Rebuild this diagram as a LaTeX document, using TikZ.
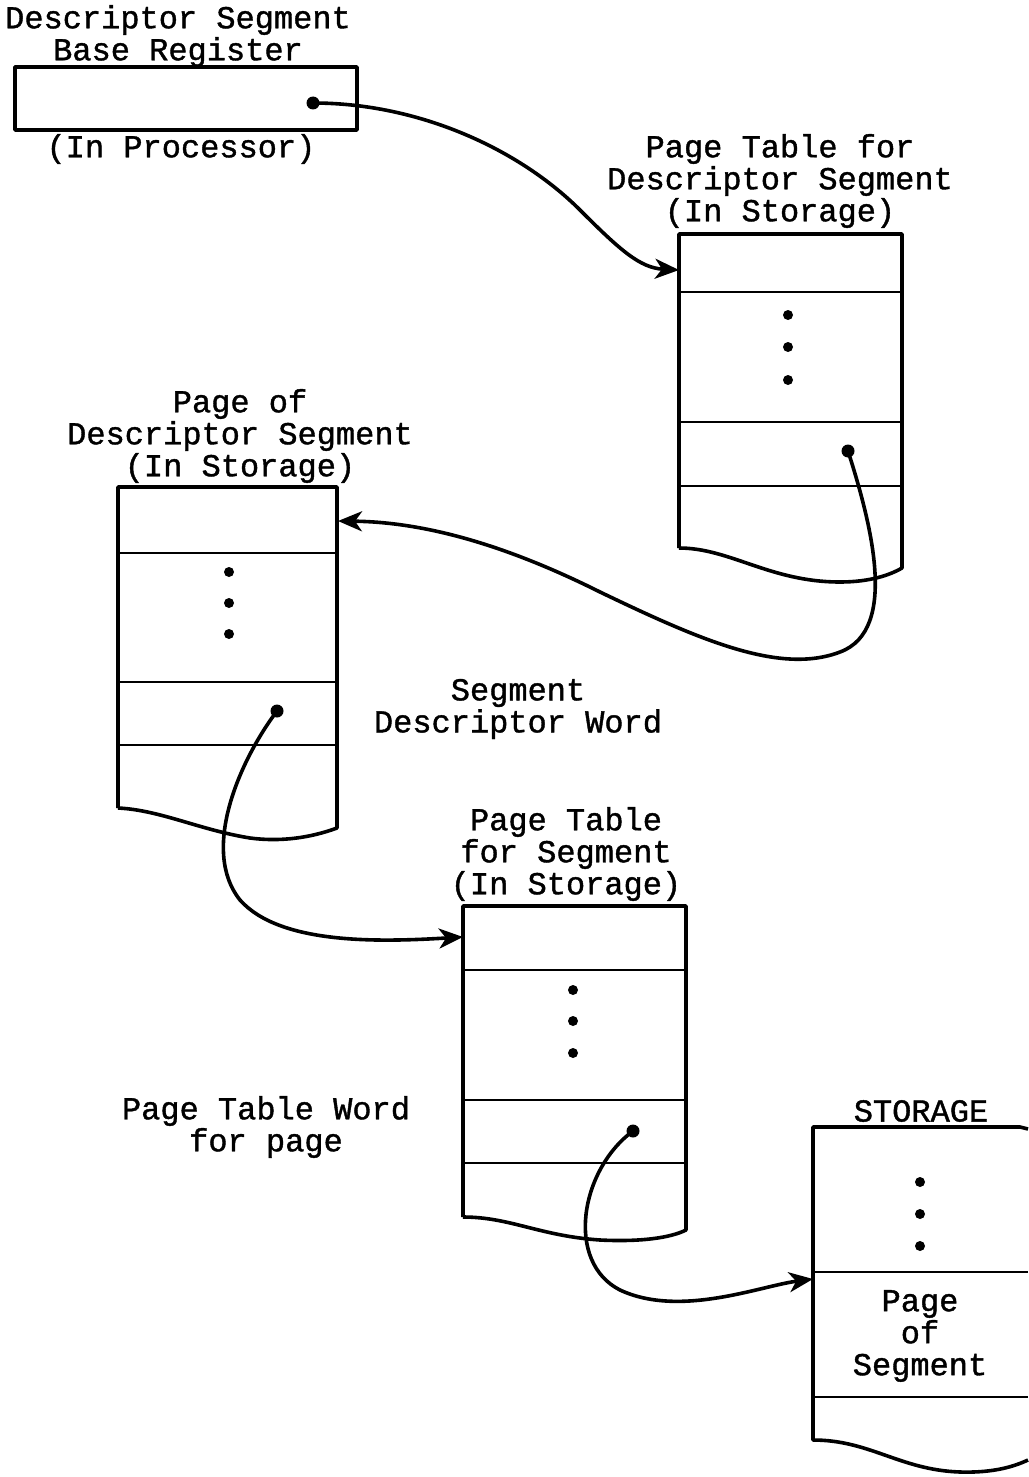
\documentclass[tikz,border=0pt]{standalone}
\usepackage{fontspec}
\setmainfont{Liberation Mono}[FakeBold=1.2]
\usetikzlibrary{arrows.meta}
\begin{document}
\begin{tikzpicture}[x=1pt,y=-1pt,
  lbl/.style={font=\fontsize{32}{32}\selectfont, align=center, inner sep=0pt},
  boxline/.style={line width=3.6pt, line join=round},
  rowline/.style={line width=2.4pt},
  ptr/.style={line width=3.6pt, -{Stealth[length=24pt,width=20pt,inset=7pt]}},
  src/.style={circle, fill=black, inner sep=0pt, minimum size=13pt},
  vdot/.style={circle, fill=black, inner sep=0pt, minimum size=10pt}]
\useasboundingbox (0,0) rectangle (1028,1477);

% ---------- Descriptor Segment Base Register ----------
\node[lbl] (tReg) at (178,36) {Descriptor Segment\\Base Register};
\draw[boxline] (15,67) rectangle (357,130);
\node[lbl] (tProc) at (181,149) {(In Processor)};
\node[src] (pReg) at (313,103) {};

% ---------- Page Table for Descriptor Segment ----------
\node[lbl] (tPTDS) at (780,181) {Page Table for\\Descriptor Segment\\(In Storage)};
\draw[boxline] (679,548) -- (679,234) -- (902,234) -- (902,568)
  .. controls (890,575) and (870,582) .. (840,582)
  .. controls (770,582) and (730,548) .. (679,548);
\draw[rowline] (679,292) -- (902,292);
\draw[rowline] (679,422) -- (902,422);
\draw[rowline] (679,486) -- (902,486);
\node[vdot] (d1a) at (788,315) {};
\node[vdot] (d1b) at (788,347) {};
\node[vdot] (d1c) at (788,380) {};
\node[src] (pPTDS) at (848,451) {};
\coordinate (inPTDS) at (679,270);

% ---------- Page of Descriptor Segment ----------
\node[lbl] (tPDS) at (240,436) {Page of\\Descriptor Segment\\(In Storage)};
\draw[boxline] (118,808) -- (118,487) -- (337,487) -- (337,828)
  .. controls (310,838) and (280,842) .. (250,838)
  .. controls (200,830) and (160,810) .. (118,808);
\draw[rowline] (118,553) -- (337,553);
\draw[rowline] (118,682) -- (337,682);
\draw[rowline] (118,745) -- (337,745);
\node[vdot] (d2a) at (229,572) {};
\node[vdot] (d2b) at (229,603) {};
\node[vdot] (d2c) at (229,634) {};
\node[src] (pPDS) at (277,711) {};
\coordinate (inPDS) at (338,521);

\node[lbl] (tSDW) at (518,709) {Segment\\Descriptor Word};

% ---------- Page Table for Segment ----------
\node[lbl] (tPTS) at (566,854) {Page Table\\for Segment\\(In Storage)};
\draw[boxline] (463,1217) -- (463,906) -- (686,906) -- (686,1230)
  .. controls (670,1238) and (640,1242) .. (600,1240)
  .. controls (540,1236) and (510,1217) .. (463,1217);
\draw[rowline] (463,970) -- (686,970);
\draw[rowline] (463,1100) -- (686,1100);
\draw[rowline] (463,1163) -- (686,1163);
\node[vdot] (d3a) at (573,990) {};
\node[vdot] (d3b) at (573,1021) {};
\node[vdot] (d3c) at (573,1053) {};
\node[src] (pPTS) at (633,1131) {};
\coordinate (inPTS) at (463,937);

\node[lbl] (tPTW) at (266,1127) {Page Table Word\\for page};

% ---------- STORAGE ----------
\node[lbl] (tSto) at (921,1111) {STORAGE};
\draw[boxline] (1028,1129) -- (1020,1127) -- (813,1127) -- (813,1440)
  .. controls (870,1440) and (900,1470) .. (960,1472)
  .. controls (995,1473) and (1015,1466) .. (1028,1460);
\draw[rowline] (813,1272) -- (1028,1272);
\draw[rowline] (813,1397) -- (1028,1397);
\node[vdot] (d4a) at (920,1182) {};
\node[vdot] (d4b) at (920,1214) {};
\node[vdot] (d4c) at (920,1246) {};
\node[lbl] (tPOS) at (920,1336) {Page\\of\\Segment};
\coordinate (inSto) at (813,1279);

% ---------- pointers ----------
\draw[ptr] (pReg.center) .. controls (420,103) and (520,150) .. (580,210)
  .. controls (620,250) and (640,268) .. (inPTDS);
\draw[ptr] (pPTDS.center) .. controls (870,520) and (900,630) .. (840,652)
  .. controls (780,675) and (700,640) .. (600,592)
  .. controls (500,542) and (420,522) .. (inPDS);
\draw[ptr] (pPDS.center) .. controls (240,760) and (200,850) .. (240,900)
  .. controls (280,945) and (380,942) .. (inPTS);
\draw[ptr] (pPTS.center) .. controls (580,1170) and (565,1262) .. (620,1290)
  .. controls (680,1318) and (760,1286) .. (inSto);
\end{tikzpicture}
\end{document}
